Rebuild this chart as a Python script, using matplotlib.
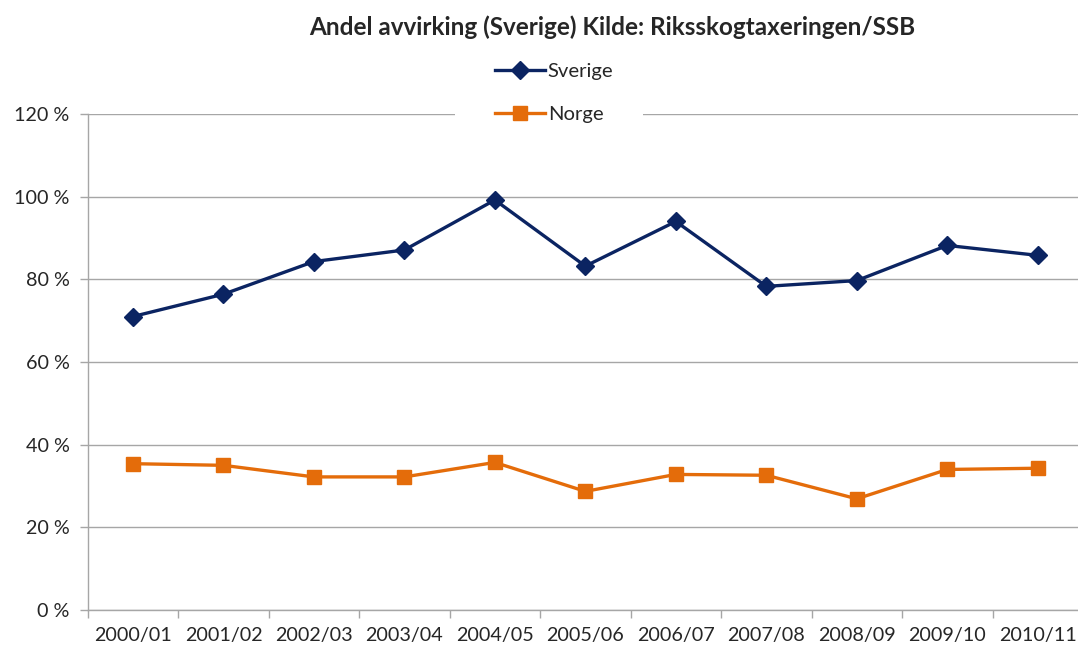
import matplotlib
matplotlib.use("Agg")
import matplotlib.pyplot as plt
from matplotlib.patches import Rectangle
from matplotlib.ticker import FixedLocator, NullFormatter

plt.rcParams['font.family'] = ['Lato', 'DejaVu Sans']

seasons = ["2000/01", "2001/02", "2002/03", "2003/04", "2004/05", "2005/06",
           "2006/07", "2007/08", "2008/09", "2009/10", "2010/11"]
sverige = [71.0, 76.4, 84.3, 87.1, 99.2, 83.2, 94.0, 78.3, 79.7, 88.2, 85.8]
norge = [35.4, 35.0, 32.2, 32.2, 35.7, 28.7, 32.8, 32.6, 26.9, 34.0, 34.3]
y_ticks = [0, 20, 40, 60, 80, 100, 120]
y_labels = [f"{v} %" for v in y_ticks]

navy = "#0B2462"
orange = "#E46C0A"
grid_gray = "#A6A6A6"
text_col = "#262626"

W, H = 1078, 651
fig = plt.figure(figsize=(W / 100, H / 100), dpi=100)
left, right, top, bottom = 87.7, 1083, 114, 610
ax = fig.add_axes([left / W, (H - bottom) / H, (right - left) / W, (bottom - top) / H])

x = list(range(len(seasons)))
ax.plot(x, sverige, color=navy, lw=2.4, marker="D", ms=9, mec=navy, mfc=navy,
        label="Sverige", zorder=3, clip_on=False)
ax.plot(x, norge, color=orange, lw=2.4, marker="s", ms=9.5, mec=orange, mfc=orange,
        label="Norge", zorder=3, clip_on=False)

ax.set_xlim(-0.5, len(seasons) - 0.5)
ax.set_ylim(0, 120)

ax.set_xticks(x)
ax.set_xticklabels(seasons)
ax.xaxis.set_minor_locator(FixedLocator([i - 0.5 for i in range(len(seasons) + 1)]))
ax.xaxis.set_minor_formatter(NullFormatter())
ax.tick_params(axis="x", which="major", length=0, pad=12, labelsize=14.2, labelcolor=text_col)
ax.tick_params(axis="x", which="minor", length=6, width=1, color=grid_gray, direction="out")

ax.set_yticks(y_ticks)
ax.set_yticklabels(y_labels)
ax.tick_params(axis="y", length=6, width=1, color=grid_gray, direction="out", pad=7,
               labelsize=14.2, labelcolor=text_col)

ax.grid(axis="y", color=grid_gray, lw=1)
ax.set_axisbelow(True)
for s in ("top", "right"):
    ax.spines[s].set_visible(False)
for s in ("left", "bottom"):
    ax.spines[s].set_color(grid_gray)
    ax.spines[s].set_linewidth(1)

# white legend area breaking the top gridline
fig.add_artist(Rectangle((455 / W, 1 - 135 / H), (643 - 455) / W, 80 / H,
                         transform=fig.transFigure, facecolor="white",
                         edgecolor="none", zorder=1.5))

leg = fig.legend(loc="upper left", bbox_to_anchor=(495 / W, 1 - 63 / H),
                 bbox_transform=fig.transFigure, frameon=False,
                 fontsize=14.6, handlelength=2.45, handletextpad=0.15,
                 labelspacing=1.25, borderpad=0, borderaxespad=0)
leg.set_zorder(2)
for t in leg.get_texts():
    t.set_color(text_col)

fig.text(612 / W, 1 - 27 / H, "Andel avvirking (Sverige) Kilde: Riksskogtaxeringen/SSB",
         ha="center", va="center", fontsize=17.5, fontweight="bold", color=text_col)

fig.savefig("out.png", dpi=100)
